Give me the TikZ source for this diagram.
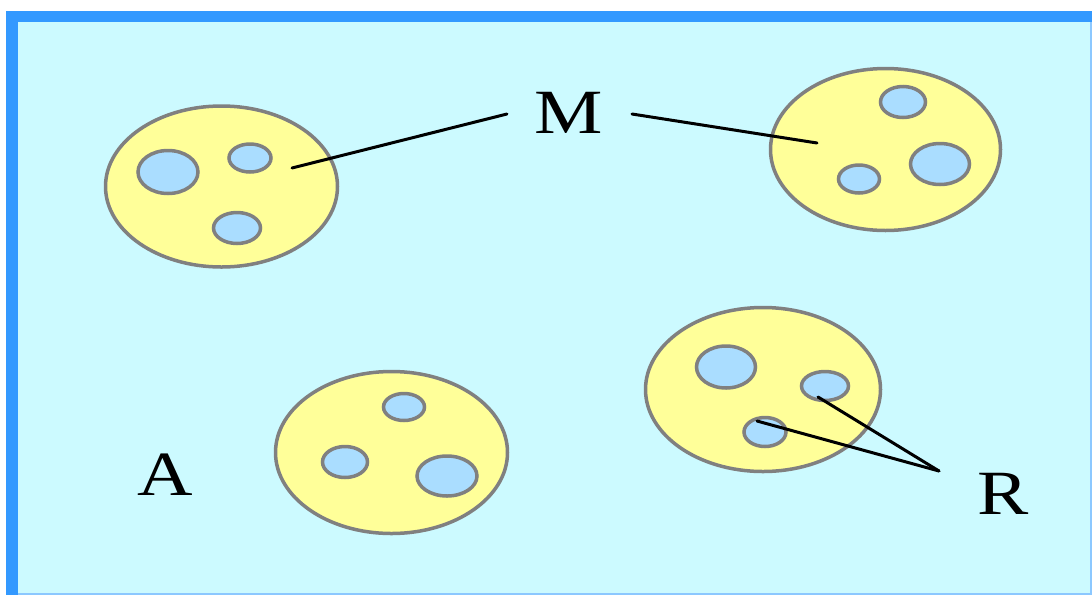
\documentclass[tikz,border=0pt]{standalone}
\usepackage{fontspec}
\setmainfont{Liberation Serif}
\usetikzlibrary{shapes.geometric}
\definecolor{bgcyan}{RGB}{204,250,255}
\definecolor{frameblue}{RGB}{51,153,255}
\definecolor{frameedge}{RGB}{140,200,255}
\definecolor{cellyellow}{RGB}{255,255,153}
\definecolor{cellgray}{RGB}{128,128,128}
\definecolor{vacblue}{RGB}{170,221,255}
\begin{document}
\begin{tikzpicture}[x=1pt,y=-1pt,
  cell/.style={ellipse, draw=cellgray, line width=3.5pt, fill=cellyellow, inner sep=0pt},
  vac/.style={ellipse, draw=cellgray, line width=3.5pt, fill=vacblue, inner sep=0pt},
  lbl/.style={font=\fontsize{63}{63}\selectfont, inner sep=0pt, anchor=base},
  pointer/.style={line width=3pt, line cap=round}]
\useasboundingbox (0,0) rectangle (1092,595);
\fill[white] (0,0) rectangle (1092,595);
\fill[frameblue] (6,11) rectangle (1092,595);
\fill[frameedge] (18,22) rectangle (1092,595);
\fill[bgcyan] (18,22) rectangle (1090,593);
% cells
\node[cell, minimum width=232pt, minimum height=161pt] (c1) at (221.5,186.5) {};
\node[vac, minimum width=60pt, minimum height=43pt] (v11) at (168,172) {};
\node[vac, minimum width=42pt, minimum height=28pt] (v12) at (250,158) {};
\node[vac, minimum width=47pt, minimum height=31pt] (v13) at (237,228) {};
\node[cell, minimum width=230pt, minimum height=162pt] (c2) at (885.5,149.5) {};
\node[vac, minimum width=45pt, minimum height=31pt] (v21) at (903,102) {};
\node[vac, minimum width=59pt, minimum height=41pt] (v22) at (940,164) {};
\node[vac, minimum width=41pt, minimum height=28pt] (v23) at (859,179) {};
\node[cell, minimum width=232pt, minimum height=162pt] (c3) at (391.5,452.5) {};
\node[vac, minimum width=41pt, minimum height=27pt] (v31) at (404,407) {};
\node[vac, minimum width=45pt, minimum height=31pt] (v32) at (345,462) {};
\node[vac, minimum width=60pt, minimum height=40pt] (v33) at (447,476) {};
\node[cell, minimum width=235pt, minimum height=164pt] (c4) at (763,389.5) {};
\node[vac, minimum width=59pt, minimum height=42pt] (v41) at (726,367) {};
\node[vac, minimum width=47pt, minimum height=29pt] (v42) at (825,386) {};
\node[vac, minimum width=42pt, minimum height=29pt] (v43) at (765,432) {};
% labels
\node[lbl] (M) at (569,133) {\scalebox{1.22}[1]{M}};
\node[lbl] (A) at (165.5,495) {\scalebox{1.22}[1]{A}};
\node[lbl] (R) at (1003.5,514) {\scalebox{1.22}[1]{R}};
% pointer ends
\coordinate (mL) at (507,114);
\coordinate (mR) at (632,114);
\coordinate (p1) at (292,168);
\coordinate (p2) at (817,143);
\coordinate (rTip) at (939,471);
\coordinate (r1) at (818,397);
\coordinate (r2) at (757,421);
\draw[pointer] (mL) -- (p1);
\draw[pointer] (mR) -- (p2);
\draw[pointer] (rTip) -- (r1);
\draw[pointer] (rTip) -- (r2);
\end{tikzpicture}
\end{document}
